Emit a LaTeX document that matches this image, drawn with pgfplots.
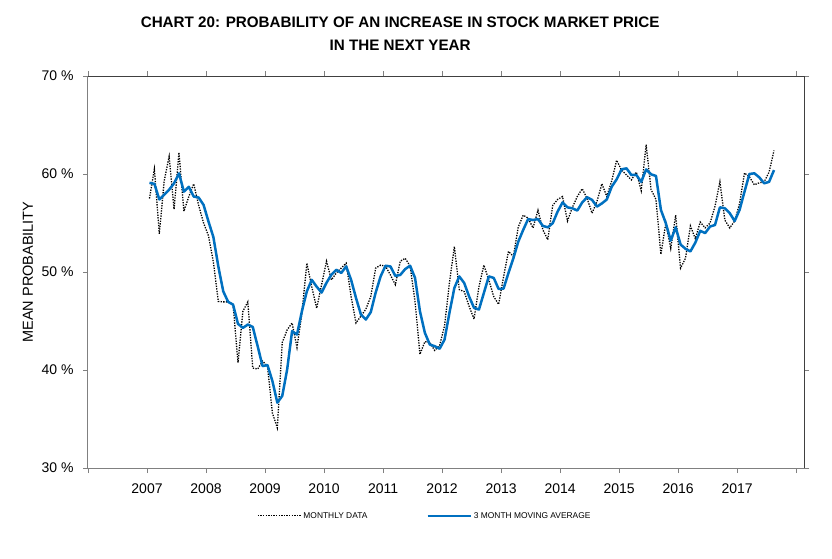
\documentclass[border=0pt]{standalone}
\usepackage{pgfplots}
\pgfplotsset{compat=1.18}
\usepackage{pgfplotstable}
\usepackage{fontspec}
\setmainfont{Liberation Sans}
\definecolor{mablue}{RGB}{0,112,192}
\definecolor{axgray}{RGB}{128,128,128}
\pgfplotstableread{
i m a
0 57.5 59.1
1 60.5 59.0
2 53.9 57.4
3 59.3 57.9
4 61.8 58.4
5 56.4 59.05
6 62.2 60.07
7 56.2 58.2
8 57.7 58.7
9 59.0 57.7
10 56.8 57.6
11 55.0 56.85
12 53.7 55.15
13 51.0 53.56
14 47.0 50.57
15 46.95 48.03
16 46.95 46.95
17 46.7 46.67
18 40.75 44.71
19 46.0 44.3
20 46.95 44.64
21 40.2 44.4
22 40.1 42.43
23 40.9 40.4
24 40.4 40.5
25 35.6 38.87
26 34.1 36.67
27 42.8 37.35
28 44.1 40.06
29 44.8 43.96
30 42.3 43.62
31 45.8 46.0
32 50.9 48.03
33 48.5 49.2
34 46.3 48.5
35 48.7 47.9
36 51.1 48.9
37 49.2 49.73
38 49.9 50.23
39 50.4 49.9
40 50.9 50.57
41 47.5 49.2
42 44.8 47.35
43 45.5 45.66
44 46.2 45.15
45 47.5 45.9
46 50.4 47.9
47 50.7 49.55
48 50.6 50.64
49 49.7 50.57
50 48.7 49.6
51 51.1 49.7
52 51.4 50.3
53 50.6 50.64
54 47.0 49.4
55 41.6 46.0
56 42.9 43.8
57 42.8 42.6
58 42.0 42.43
59 42.5 42.17
60 44.5 43.1
61 48.9 45.83
62 52.6 48.37
63 48.2 49.55
64 48.0 48.88
65 46.5 47.5
66 45.2 46.34
67 48.5 46.17
68 50.7 47.86
69 49.2 49.55
70 47.5 49.4
71 46.7 48.27
72 49.5 48.3
73 52.1 49.9
74 51.6 51.4
75 54.6 53.1
76 55.8 54.3
77 55.5 55.4
78 54.5 55.3
79 56.3 55.4
80 54.3 54.7
81 53.3 54.56
82 56.8 54.98
83 57.4 56.17
84 57.7 57.1
85 55.2 56.6
86 56.6 56.5
87 57.7 56.27
88 58.5 57.1
89 57.5 57.63
90 56.0 57.36
91 57.2 56.67
92 59.0 57.0
93 57.7 57.4
94 59.3 58.7
95 61.4 59.46
96 60.4 60.47
97 59.9 60.58
98 59.4 59.9
99 60.2 59.9
100 58.3 59.2
101 63.0 60.47
102 58.4 59.97
103 57.4 59.8
104 51.8 56.34
105 55.0 54.98
106 52.4 53.2
107 55.8 54.56
108 50.4 52.8
109 51.4 52.37
110 54.7 52.1
111 53.4 53.0
112 55.1 54.2
113 54.5 53.97
114 55.0 54.64
115 56.7 54.8
116 59.2 56.6
117 55.3 56.5
118 54.5 56.0
119 55.2 55.2
120 57.0 56.34
121 60.1 58.2
122 59.7 60.0
123 58.9 60.07
124 59.1 59.66
125 59.2 59.05
126 60.2 59.2
127 62.4 60.4
}\datatable

\begin{document}
\begin{tikzpicture}
\path[use as bounding box] (0pt,0pt) rectangle (832pt,558pt);
\begin{axis}[
  at={(88pt,90pt)}, anchor=south west,
  width=716pt, height=392pt, scale only axis,
  xmin=-12.5, xmax=133.1, ymin=30, ymax=70,
  xtick={-12.5,-0.5,11.5,23.5,35.5,47.5,59.5,71.5,83.5,95.5,107.5,119.5,131.5},
  xticklabels={,2007,2008,2009,2010,2011,2012,2013,2014,2015,2016,2017,},
  ytick={30,40,50,60,70},
  yticklabels={30 \%,40 \%,50 \%,60 \%,70 \%},
  tick align=outside,
  major tick length=5pt,
  tick style={axgray, line width=0.8pt},
  axis line style={axgray, line width=1pt},
  ticklabel style={font=\fontsize{14}{16}\selectfont},
  xticklabel style={yshift=-7pt},
  yticklabel style={xshift=-6pt},
  /pgf/number format/assume math mode=true,
  ylabel={MEAN PROBABILITY},
  ylabel style={at={(axis description cs:-0.0838,0.5)}, anchor=center, font=\fontsize{14.5}{16}\selectfont, inner sep=0pt},
  title={CHART 20: PROBABILITY OF AN INCREASE IN STOCK MARKET PRICE\\IN THE NEXT YEAR},
  title style={at={(axis description cs:0.436,1.137)}, anchor=north, align=center, inner sep=0pt, font=\bfseries\fontsize{15.2}{23}\selectfont},
  legend columns=2,
  legend style={at={(axis description cs:0.236,-0.122)}, anchor=west, draw=none, fill=none, inner sep=0pt,
    font=\fontsize{8.4}{9}\selectfont,
    /tikz/every even column/.append style={column sep=57pt}},
  legend image code/.code={\draw[#1] (0pt,0pt) -- (43pt,0pt);},
  legend cell align=left,
  clip=false,
]
\addplot[black, line width=1.3pt, dash pattern=on 1.3pt off 1.3pt] table[x=i,y=m]{\datatable};
\addplot[mablue, line width=2.5pt, line join=round] table[x=i,y=a]{\datatable};
\legend{MONTHLY DATA, 3 MONTH MOVING AVERAGE}
\draw[black!75, line width=1pt] (rel axis cs:0,1) -- (rel axis cs:1,1) -- (rel axis cs:1,0);
\end{axis}
\end{tikzpicture}
\end{document}
